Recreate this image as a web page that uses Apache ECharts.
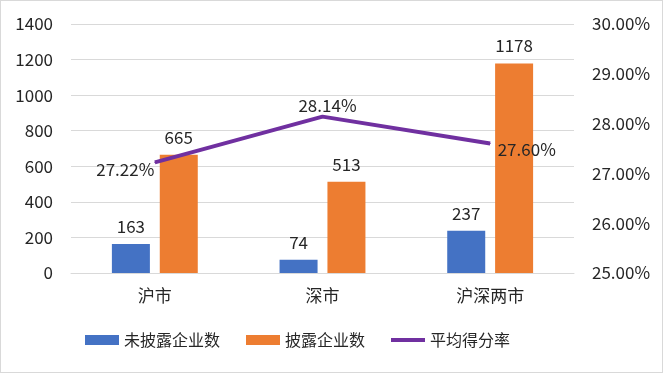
<!DOCTYPE html>
<html><head><meta charset="utf-8">
<script src="https://cdn.jsdelivr.net/npm/echarts@6/dist/echarts.min.js"></script>
<style>html,body{margin:0;padding:0;background:#fff}#c{width:661px;height:371px;border:1px solid #d9d9d9}</style>
</head><body><div id="c"></div>
<script>
const categories = ['沪市', '深市', '沪深两市'];
const undisclosed = [163, 74, 237];
const disclosed = [665, 513, 1178];
const avgRate = [27.22, 28.14, 27.60];
const leftTicks = [0, 200, 400, 600, 800, 1000, 1200, 1400];
const rightTicks = [25, 26, 27, 28, 29, 30];

const font = '"Noto Sans CJK SC", "Noto Sans", sans-serif';
const txt = '#262626';
const chart = echarts.init(document.getElementById('c'));
const lineLabels = [
  {position: 'left', distance: 0, offset: [0, 7]},
  {position: 'top', distance: 2, offset: [5, 0]},
  {position: 'right', distance: 7, offset: [0, 6]}
];
chart.setOption({
  animation: false,
  textStyle: {fontFamily: font},
  grid: {left: 70, right: 88, top: 23, bottom: 99},
  legend: {
    bottom: 19, left: 79, itemGap: 26, itemWidth: 34, itemHeight: 10,
    textStyle: {fontSize: 16, color: txt, fontFamily: font},
    data: [
      {name: '未披露企业数', icon: 'rect'},
      {name: '披露企业数', icon: 'rect'},
      {name: '平均得分率', icon: 'path://M0,0 L100,0 L100,12 L0,12 Z'}
    ]
  },
  xAxis: {
    type: 'category', data: categories,
    axisLine: {lineStyle: {color: '#d9d9d9'}},
    axisTick: {show: false},
    axisLabel: {fontSize: 17, color: txt, margin: 14, fontFamily: font}
  },
  yAxis: [
    {type: 'value', min: leftTicks[0], max: leftTicks[leftTicks.length-1], interval: 200,
     axisLabel: {fontSize: 17, color: txt, margin: 18, fontFamily: font, formatter: v => String(v)},
     splitLine: {lineStyle: {color: '#d9d9d9'}}},
    {type: 'value', min: rightTicks[0], max: rightTicks[rightTicks.length-1], interval: 1,
     axisLabel: {fontSize: 17, color: txt, margin: 18, fontFamily: font,
       formatter: v => v.toFixed(2) + '%'},
     splitLine: {show: false}}
  ],
  series: [
    {name: '未披露企业数', type: 'bar', data: undisclosed, barWidth: 38, barGap: '26%',
     itemStyle: {color: '#4472C4'},
     label: {show: true, position: 'top', fontSize: 17, color: txt, distance: 9, fontFamily: font}},
    {name: '披露企业数', type: 'bar', data: disclosed, barWidth: 38,
     itemStyle: {color: '#ED7D31'},
     label: {show: true, position: 'top', fontSize: 17, color: txt, distance: 9, fontFamily: font}},
    {name: '平均得分率', type: 'line', yAxisIndex: 1, symbol: 'circle', symbolSize: 1, showSymbol: true,
     lineStyle: {color: '#7030A0', width: 4}, itemStyle: {color: '#7030A0'},
     data: avgRate.map((v, i) => ({value: v, label: lineLabels[i]})),
     label: {show: true, fontSize: 17, color: txt, fontFamily: font,
       formatter: p => p.value.toFixed(2) + '%'}}
  ]
});
</script></body></html>
